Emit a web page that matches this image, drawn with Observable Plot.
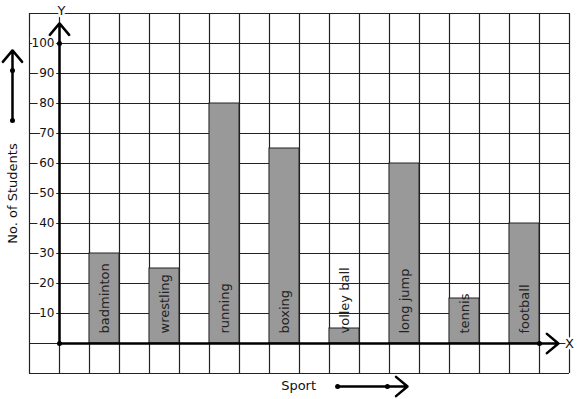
<!DOCTYPE html>
<html><head><meta charset="utf-8">
<script src="https://cdn.jsdelivr.net/npm/d3@7"></script>
<script src="https://cdn.jsdelivr.net/npm/@observablehq/plot@0.6"></script>
<style>body{margin:0;background:#fff} svg{display:block}</style>
</head><body><div id="chart"></div>
<script>
const sports = ["badminton","wrestling","running","boxing","volley ball","long jump","tennis","football"];
const students = [30,25,80,65,5,60,15,40];
const yTicks = [10,20,30,40,50,60,70,80,90,100];
const xTitle = "Sport";
const yTitle = "No. of Students";

const bars = sports.map((s, i) => ({sport: s, n: students[i], x1: 2 * i + 1, x2: 2 * i + 2, xc: 2 * i + 1.5}));

const plot = Plot.plot({
  width: 577, height: 399,
  marginLeft: 29, marginRight: 8, marginTop: 13, marginBottom: 26,
  x: {domain: [-1, 17], axis: null},
  y: {domain: [-10, 110], axis: null},
  style: {fontFamily: "DejaVu Sans", background: "white", overflow: "visible"},
  marks: [
    Plot.gridX(d3.range(-1, 18), {stroke: "#222", strokeOpacity: 1, strokeWidth: 1.2}),
    Plot.gridY(d3.range(-10, 111, 10), {stroke: "#222", strokeOpacity: 1, strokeWidth: 1.2}),
    Plot.rectY(bars, {x1: "x1", x2: "x2", y: "n", fill: "#999", stroke: "#222", strokeWidth: 1}),
    Plot.text(bars, {x: "xc", y: 0, text: "sport", rotate: -90, textAnchor: "start", dy: -10, fontSize: 13, fill: "#222"}),
    // y tick labels
    Plot.text(yTicks, {x: 0, y: d => d, text: d => String(d), textAnchor: "end", dx: -5, fontSize: 12, fill: "#111", stroke: "white", strokeWidth: 5}),
    // axes
    Plot.arrow([0], {x1: 0, y1: 0, x2: 16.63, y2: 0, stroke: "black", strokeWidth: 2.5, headLength: 9, headAngle: 80}),
    Plot.arrow([0], {x1: 0, y1: 0, x2: 0, y2: 106.7, stroke: "black", strokeWidth: 2.5, headLength: 9, headAngle: 80}),
    Plot.dot([[0, 0], [0, 100], [16, 0]], {x: d => d[0], y: d => d[1], r: 2.5, fill: "black"}),
    Plot.text(["Y"], {x: 0, y: 110, dx: 2, dy: -3, text: d => d, fontSize: 13, fill: "#111", stroke: "white", strokeWidth: 5}),
    Plot.text(["X"], {x: 17, y: 0, text: d => d, fontSize: 13, fill: "#111", stroke: "white", strokeWidth: 5}),
    // y legend
    Plot.arrow([0], {x1: -1.567, y1: 74.3, x2: -1.567, y2: 97.7, stroke: "black", strokeWidth: 2.5, headLength: 9, headAngle: 80}),
    Plot.dot([74.3, 91], {x: -1.567, y: d => d, r: 2.5, fill: "black"}),
    Plot.text([yTitle], {x: -1.567, y: 50, text: d => d, rotate: -90, fontSize: 13, fill: "#111"}),
    // x legend
    Plot.text([xTitle], {x: 7.97, y: -14.2, text: d => d, fontSize: 13, fill: "#111"}),
    Plot.arrow([0], {x1: 9.27, y1: -14.33, x2: 11.6, y2: -14.33, stroke: "black", strokeWidth: 2.5, headLength: 9, headAngle: 80}),
    Plot.dot([9.27, 10.93], {x: d => d, y: -14.33, r: 2.5, fill: "black"})
  ]
});
document.getElementById("chart").appendChild(plot);
</script>
</body></html>
